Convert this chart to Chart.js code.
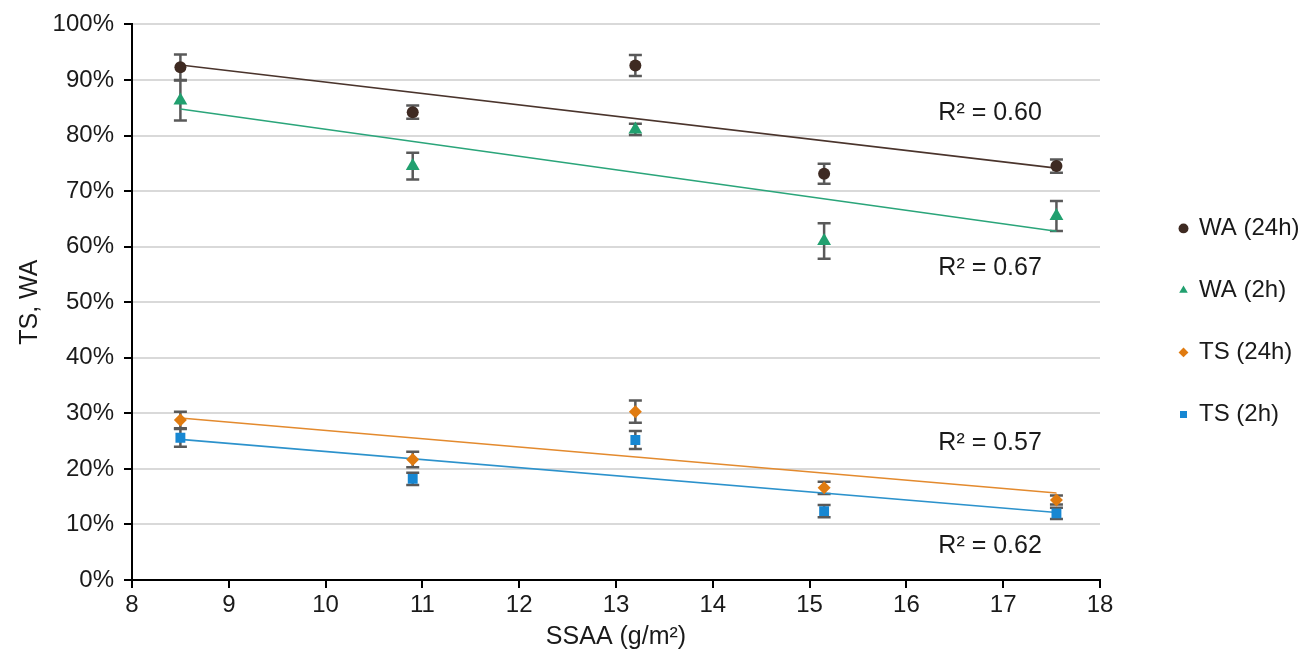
<!DOCTYPE html>
<html>
<head>
<meta charset="utf-8">
<title>TS, WA vs SSAA</title>
<script src="https://cdn.jsdelivr.net/npm/chart.js@4.4.1/dist/chart.umd.min.js"></script>
<style>
  html,body{margin:0;padding:0;background:#fff;}
  #wrap{width:1305px;height:665px;position:relative;}
</style>
</head>
<body>
<div id="wrap"><canvas id="idGrafica"></canvas></div>
<script>
// datos
var ssaa = [8.5, 10.9, 13.2, 15.15, 17.55];
var wa24 = [92.3, 84.2, 92.6, 73.1, 74.5];
var wa24Err = [2.3, 1.2, 1.9, 1.8, 1.2];
var wa2 = [86.3, 74.5, 81.1, 61.0, 65.5];
var wa2Err = [3.6, 2.4, 1.0, 3.2, 2.7];
var ts24 = [28.8, 21.7, 30.3, 16.6, 14.4];
var ts24Err = [1.5, 1.4, 2.0, 1.1, 0.8];
var ts2 = [25.6, 18.2, 25.2, 12.4, 12.0];
var ts2Err = [1.6, 1.1, 1.6, 1.1, 1.0];
var nombres = ['WA (24h)', 'WA (2h)', 'TS (24h)', 'TS (2h)'];
var r2Textos = ['R² = 0.60', 'R² = 0.67', 'R² = 0.57', 'R² = 0.62'];
var yTicks = [0, 10, 20, 30, 40, 50, 60, 70, 80, 90, 100];

var colores = ['#3e2a22', '#21a06f', '#e07b10', '#1787d2'];
var coloresLinea = ['#4a342c', '#2aa57a', '#e38a2e', '#2c92cc'];
var fuente = "'Liberation Sans', Arial, sans-serif";

function puntos(ys){
    var arr = [];
    for(let i in ssaa){ arr.push({x:ssaa[i], y:ys[i]}); }
    return arr;
}
// recta de minimos cuadrados
function tendencia(ys){
    let n = ssaa.length, sx = 0, sy = 0;
    for(let i=0;i<n;i++){ sx += ssaa[i]; sy += ys[i]; }
    let mx = sx/n, my = sy/n, num = 0, den = 0;
    for(let i=0;i<n;i++){ num += (ssaa[i]-mx)*(ys[i]-my); den += (ssaa[i]-mx)*(ssaa[i]-mx); }
    let m = num/den, b = my - m*mx;
    let x0 = ssaa[0], x1 = ssaa[n-1];
    return [{x:x0, y:m*x0+b}, {x:x1, y:m*x1+b}];
}

var series = [wa24, wa2, ts24, ts2];
var errores = [wa24Err, wa2Err, ts24Err, ts2Err];
var estilos = ['circle', 'triangle', 'rectRot', 'rect'];
var radios = [6, 8, 6.5, 7];

var datasets = [];
for(let k=0;k<4;k++){
    datasets.push({
        label: nombres[k],
        data: puntos(series[k]),
        errores: errores[k],
        pointStyle: estilos[k],
        pointRadius: radios[k],
        backgroundColor: colores[k],
        borderColor: colores[k],
        borderWidth: 0,
        showLine: false,
        order: 1
    });
}
for(let k=0;k<4;k++){
    datasets.push({
        label: 'tend' + k,
        type: 'line',
        data: tendencia(series[k]),
        borderColor: coloresLinea[k],
        borderWidth: 1.6,
        pointRadius: 0,
        showLine: true,
        fill: false,
        order: 2
    });
}

// barras de error
var pluginErrores = {
    id: 'errores',
    beforeDatasetsDraw: function(chart){
        var ctx = chart.ctx, xs = chart.scales.x, ys = chart.scales.y;
        ctx.save();
        ctx.strokeStyle = '#595959';
        ctx.lineWidth = 2.5;
        chart.data.datasets.forEach(function(ds){
            if(!ds.errores) return;
            ds.data.forEach(function(p, i){
                var e = ds.errores[i];
                var px = xs.getPixelForValue(p.x);
                var yt = ys.getPixelForValue(p.y + e);
                var yb = ys.getPixelForValue(p.y - e);
                ctx.beginPath();
                ctx.moveTo(px, yt); ctx.lineTo(px, yb);
                ctx.moveTo(px-6.5, yt); ctx.lineTo(px+6.5, yt);
                ctx.moveTo(px-6.5, yb); ctx.lineTo(px+6.5, yb);
                ctx.stroke();
            });
        });
        ctx.restore();
    }
};

// etiquetas R²
var pluginR2 = {
    id: 'r2',
    afterDatasetsDraw: function(chart, args, opts){
        var ctx = chart.ctx, xs = chart.scales.x, ys = chart.scales.y;
        ctx.save();
        ctx.font = '25px ' + fuente;
        ctx.fillStyle = '#1a1a1a';
        ctx.textAlign = 'left';
        ctx.textBaseline = 'middle';
        opts.pos.forEach(function(p, i){
            ctx.fillText(r2Textos[i], xs.getPixelForValue(p[0]), ys.getPixelForValue(p[1]));
        });
        ctx.restore();
    }
};

// mover la leyenda un poco a la derecha
var pluginLeyenda = {
    id: 'moverLeyenda',
    afterLayout: function(chart, args, opts){
        chart.legend.left += opts.dx;
        chart.legend.right += opts.dx;
    }
};

var ctx = document.getElementById('idGrafica').getContext('2d');
var mychart = new Chart(ctx, {
    type: 'scatter',
    data: { datasets: datasets },
    plugins: [pluginErrores, pluginR2, pluginLeyenda],
    options: {
        responsive: true,
        maintainAspectRatio: false,
        animation: false,
        layout: { padding: { top: 12, left: 0, right: 0, bottom: 0 } },
        plugins: {
            tooltip: { enabled: false },
            moverLeyenda: { dx: 42 },
            r2: { pos: [[16.33, 84.1], [16.33, 56.2], [16.33, 24.7], [16.33, 6.1]] },
            legend: {
                position: 'right',
                align: 'start',
                title: { display: true, text: ' ', font: { size: 12 }, padding: { top: 152, bottom: 0 } },
                labels: {
                    usePointStyle: true,
                    boxWidth: 7,
                    boxHeight: 7,
                    padding: 38,
                    color: '#1a1a1a',
                    font: { size: 24, family: fuente },
                    filter: function(item){ return item.datasetIndex < 4; }
                }
            }
        },
        scales: {
            x: {
                type: 'linear',
                min: 8, max: 18,
                afterFit: function(s){ s.height = 85; s.paddingRight = 205; },
                ticks: { stepSize: 1, color: '#1a1a1a', padding: 3, font: { size: 24, family: fuente } },
                grid: { drawOnChartArea: false, drawTicks: true, tickLength: 8, tickColor: '#000', lineWidth: 2 },
                border: { color: '#000', width: 2 },
                title: { display: true, text: 'SSAA (g/m²)', color: '#1a1a1a', font: { size: 25, family: fuente }, padding: { top: 6, bottom: 13 } }
            },
            y: {
                min: 0, max: 100,
                afterFit: function(s){ s.width = 132; },
                afterBuildTicks: function(s){ s.ticks = yTicks.map(function(v){ return {value:v}; }); },
                ticks: { color: '#1a1a1a', padding: 10, font: { size: 24, family: fuente }, callback: function(v){ return v + '%'; } },
                grid: { color: '#d9d9d9', lineWidth: 2, drawTicks: true, tickLength: 8, tickColor: '#000' },
                border: { color: '#000', width: 2 },
                title: { display: true, text: 'TS, WA', color: '#1a1a1a', font: { size: 25, family: fuente }, padding: { top: 15, bottom: 4 } }
            }
        }
    }
});
</script>
</body>
</html>
